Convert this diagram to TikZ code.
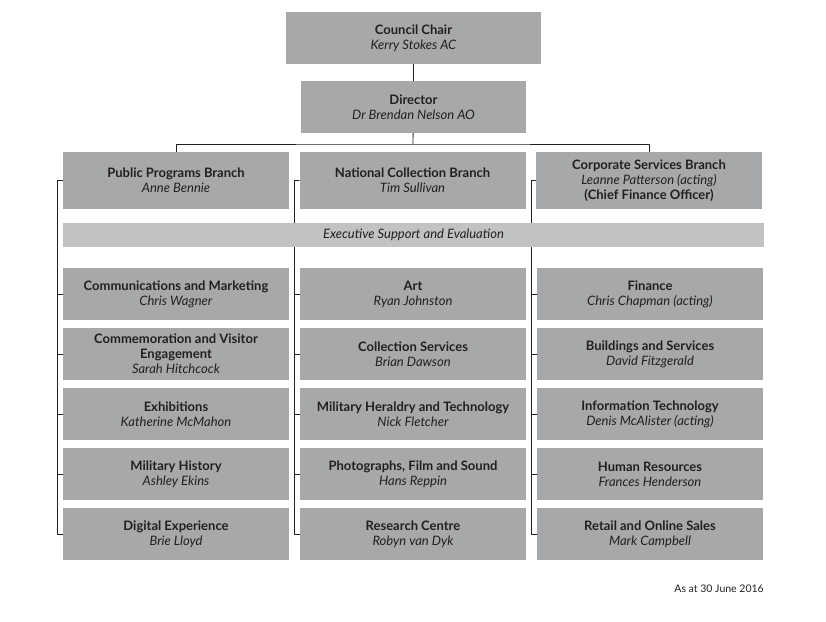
\documentclass[tikz,border=0pt]{standalone}
\usepackage{fontspec}
\setmainfont{Lato}
\definecolor{boxgray}{HTML}{A7A8AA}
\definecolor{bargray}{HTML}{C1C2C4}
\definecolor{inkgray}{HTML}{231F20}
\begin{document}
\begin{tikzpicture}[line cap=round,line join=round,x=1pt,y=-1pt,
	unit/.style={fill=boxgray,minimum width=226pt,minimum height=52pt,inner sep=2pt,align=center,text=inkgray,font=\fontsize{13}{15}\selectfont},
	branch/.style={unit,minimum height=57pt},
	link/.style={line width=0.8pt,draw=inkgray}]
	\useasboundingbox (0,0) rectangle (826,621);
	% top of the chart
	\node[unit,minimum width=255pt] (chair) at (413.5,38) {\textbf{Council Chair}\\\textit{Kerry Stokes AC}};
	\node[unit,minimum width=225pt] (director) at (413.5,107) {\textbf{Director}\\\textit{Dr Brendan Nelson AO}};
	\node[branch] (pp) at (176,180.5) {\textbf{Public Programs Branch}\\\textit{Anne Bennie}};
	\node[branch] (nc) at (412.5,180.5) {\textbf{National Collection Branch}\\\textit{Tim Sullivan}};
	\node[branch] (cs) at (649,180.5) {\textbf{Corporate Services Branch}\\\textit{Leanne Patterson (acting)}\\\textbf{(Chief Finance Officer)}};
	\coordinate (bus) at (413,144);
	% left column
	\node[unit] (ppA) at (176,294) {\textbf{Communications and Marketing}\\\textit{Chris Wagner}};
	\node[unit] (ppB) at (176,354) {\textbf{Commemoration and Visitor}\\\textbf{Engagement}\\\textit{Sarah Hitchcock}};
	\node[unit] (ppC) at (176,414) {\textbf{Exhibitions}\\\textit{Katherine McMahon}};
	\node[unit] (ppD) at (176,474) {\textbf{Military History}\\\textit{Ashley Ekins}};
	\node[unit] (ppE) at (176,534) {\textbf{Digital Experience}\\\textit{Brie Lloyd}};
	% middle column
	\node[unit] (ncA) at (413,294) {\textbf{Art}\\\textit{Ryan Johnston}};
	\node[unit] (ncB) at (413,354) {\textbf{Collection Services}\\\textit{Brian Dawson}};
	\node[unit] (ncC) at (413,414) {\textbf{Military Heraldry and Technology}\\\textit{Nick Fletcher}};
	\node[unit] (ncD) at (413,474) {\textbf{Photographs, Film and Sound}\\\textit{Hans Reppin}};
	\node[unit] (ncE) at (413,534) {\textbf{Research Centre}\\\textit{Robyn van Dyk}};
	% right column
	\node[unit] (csA) at (650,294) {\textbf{Finance}\\\textit{Chris Chapman (acting)}};
	\node[unit] (csB) at (650,354) {\textbf{Buildings and Services}\\\textit{David Fitzgerald}};
	\node[unit] (csC) at (650,414) {\textbf{Information Technology}\\\textit{Denis McAlister (acting)}};
	\node[unit] (csD) at (650,474) {\textbf{Human Resources}\\\textit{Frances Henderson}};
	\node[unit] (csE) at (650,534) {\textbf{Retail and Online Sales}\\\textit{Mark Campbell}};
	% connectors
	\draw[link] (chair) -- (director);
	\draw[link] (director) -- (bus);
	\draw[link] (pp.north) |- (bus) -| (cs.north);
	\draw[link] (pp.west) -- ++(-5,0) |- (ppE.west);
	\draw[link] (nc.west) -- ++(-5,0) |- (ncE.west);
	\draw[link] (cs.west) -- ++(-4,0) |- (csE.west);
	\foreach \col in {pp,nc,cs}
		\foreach \row in {A,B,C,D}
			\draw[link] (\col\row.west) -- ++(-5,0);
	% support bar over the column lines
	\node[fill=bargray,minimum width=701pt,minimum height=24pt,inner sep=0pt,text=inkgray,font=\fontsize{13}{15}\selectfont\itshape] (exec) at (413.5,235) {Executive Support and Evaluation};
	\node[anchor=east,inner sep=0pt,text=inkgray,font=\fontsize{10.5}{12}\selectfont] (date) at (764,589) {As at 30 June 2016};
\end{tikzpicture}
\end{document}
